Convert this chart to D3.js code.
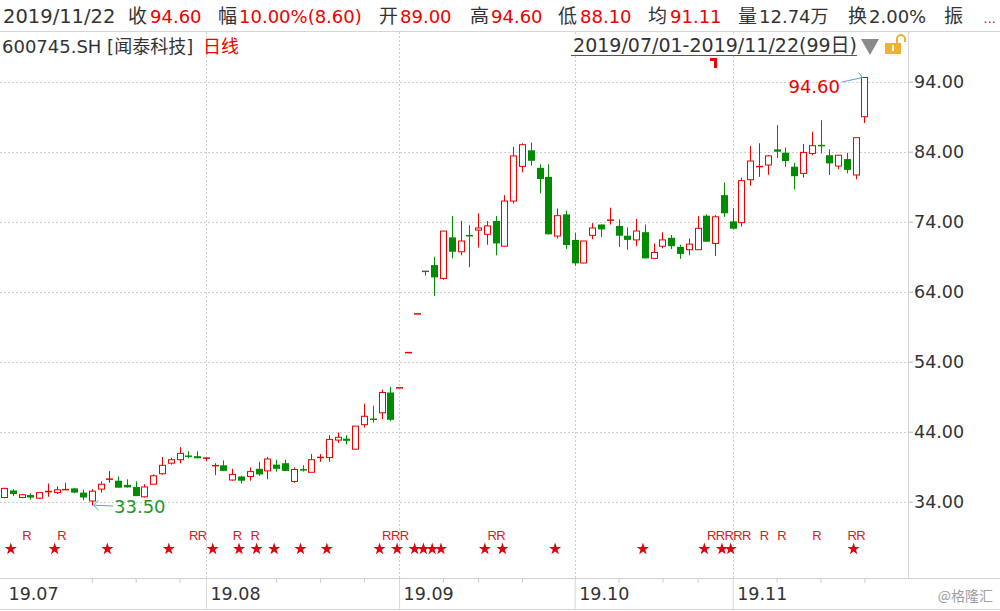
<!DOCTYPE html>
<html><head><meta charset="utf-8">
<script src="https://cdn.jsdelivr.net/npm/d3@7/dist/d3.min.js"></script>
<style>body{margin:0;background:#fff;} svg{display:block;}</style>
</head><body><svg id="c" width="1000" height="611"></svg>
<script>
// ---- data: 600745.SH daily candles 2019/07/01 - 2019/11/22 (99 trading days) ----
const opens = [34.6,35.6,34.6,34.95,34.5,35.4,35.3,35.7,35.9,35.3,
  34.1,35.8,37.2,37.0,36.4,36.1,34.7,36.5,38.0,39.5,
  40.0,40.6,40.5,40.2,39.1,39.2,37.1,37.6,37.6,38.7,
  38.4,39.3,39.5,36.9,38.6,38.2,40.3,40.3,42.8,43.0,
  41.5,45.0,45.85,46.7,49.6,50.27,55.30,60.83,66.91,67.8,
  65.9,71.76,69.7,72.1,72.8,72.2,74.1,70.5,76.95,81.9,
  84.2,81.7,80.4,71.95,75.05,71.4,68.1,72.05,73.6,74.1,
  73.4,72.0,71.4,72.5,68.76,70.5,71.7,70.4,70.0,70.0,
  74.86,70.9,77.8,74.05,73.86,80.0,81.8,82.1,84.33,83.86,
  81.86,80.9,83.76,84.95,83.5,81.95,82.95,80.67,89.0];
const highs = [36.0,35.8,35.1,35.2,35.3,36.6,36.2,36.7,35.95,35.7,
  35.8,36.9,38.4,37.6,37.2,36.9,36.5,37.9,40.4,40.3,
  41.8,41.2,41.2,40.35,39.5,39.9,38.7,37.7,38.9,39.7,
  40.4,40.0,40.0,38.9,39.2,40.8,40.8,43.5,43.9,43.5,
  44.8,48.0,47.7,50.0,50.4,50.27,55.30,60.83,66.91,69.0,
  72.66,74.8,74.14,73.5,75.2,74.1,74.8,77.8,84.7,85.2,
  85.3,82.2,82.2,75.9,75.6,72.4,71.24,73.8,73.6,76.0,
  74.33,73.2,74.4,73.6,70.9,72.5,72.1,70.7,71.6,74.8,
  75.05,74.95,79.6,75.9,80.3,84.8,85.2,83.5,87.8,84.6,
  82.4,85.1,86.86,88.5,84.33,83.5,83.86,86.0,94.6];
const lows = [34.5,34.8,34.5,34.3,34.4,34.7,35.1,35.65,35.2,34.2,
  33.5,35.3,36.7,36.0,36.0,34.8,34.6,36.5,37.85,39.3,
  39.5,40.2,40.2,39.8,37.8,38.4,37.0,36.6,37.0,37.7,
  37.2,38.3,38.4,36.7,38.3,38.2,39.7,39.7,42.4,42.2,
  41.5,44.6,45.3,45.8,45.5,50.27,55.30,60.83,66.3,63.4,
  65.7,68.76,69.2,67.5,70.3,70.7,69.2,70.4,76.6,81.05,
  82.0,78.05,72.2,71.6,70.1,67.7,68.05,71.5,71.8,73.6,
  70.4,70.0,70.5,68.76,68.76,70.2,70.1,68.7,69.2,70.0,
  71.14,69.1,74.7,72.9,73.3,79.14,80.4,80.7,83.1,81.86,
  78.6,80.3,83.5,83.76,80.67,81.5,80.9,80.05,88.1];
const closes = [35.9,35.1,35.0,34.6,35.3,35.5,35.7,35.75,35.3,34.6,
  35.5,36.5,37.25,36.0,36.05,34.8,36.1,37.7,39.2,40.0,
  40.9,40.4,40.2,40.25,39.2,38.4,37.9,37.0,38.3,37.9,
  40.1,38.7,38.4,38.6,38.5,40.0,40.35,42.9,43.2,42.7,
  44.8,46.2,45.7,49.6,45.7,50.27,55.30,60.83,66.91,66.05,
  72.66,69.7,71.24,71.9,73.1,73.4,70.9,76.95,83.4,85.0,
  82.7,80.1,72.2,74.86,70.67,68.05,71.24,73.1,72.9,74.33,
  72.0,71.4,72.67,68.76,69.6,71.4,70.5,69.4,70.8,73.05,
  71.14,74.7,75.2,73.0,79.86,82.67,81.95,83.4,84.0,82.67,
  80.5,83.9,84.86,84.8,82.33,83.5,81.4,86.0,94.6];
const monthLabels = ["19.07","19.08","19.09","19.10","19.11"];
const monthStartIdx = [0,23,45,65,83];
const minorTickIdx = [10,15,20,31,36,41,50,54,59,70,75,79,88,93,98];
const yTicks = [34,44,54,64,74,84,94];
const starIdx = [1,6,12,19,24,27,29,31,34,37,43,45,47,48,49,50,55,57,63,73,80,82,83,97];
const rIdx = [3,7,22,23,27,29,44,45,46,56,57,81,82,83,84,85,87,89,93,97,98];
const maxLabel = {idx:98, value:94.60};
const minLabel = {idx:10, value:33.50};
const headerItems = [
  {t:"2019/11/22",v:false,x:3,fs:19.5},{t:"收",v:false,x:128,fs:19},{t:"94.60",v:true,x:150,fs:18},
  {t:"幅",v:false,x:218,fs:19},{t:"10.00%(8.60)",v:true,x:239,fs:18},
  {t:"开",v:false,x:379,fs:19},{t:"89.00",v:true,x:400,fs:18},
  {t:"高",v:false,x:470,fs:19},{t:"94.60",v:true,x:491,fs:18},
  {t:"低",v:false,x:558,fs:19},{t:"88.10",v:true,x:580,fs:18},
  {t:"均",v:false,x:648,fs:19},{t:"91.11",v:true,x:670,fs:18},
  {t:"量",v:false,x:738,fs:19},{t:"12.74万",v:false,x:759,fs:18},
  {t:"换",v:false,x:848,fs:19},{t:"2.00%",v:false,x:869,fs:18},
  {t:"振",v:false,x:944,fs:19}];

// ---- drawing ----
const RED="#ee0000", GREEN="#008c00", GRID="#cfcfcf", TXT="#333", FONT="'DejaVu Sans','Noto Sans CJK SC',sans-serif";
const svg = d3.select("#c");
const W=1000, plotR=908, plotTop=32, plotBot=578;
const x = d3.scaleLinear().domain([0,98]).range([4,864.4]);
const y = d3.scaleLinear().domain([34,94]).range([501.7,81.7]);
const cx = i => Math.round(x(i))+0.5;

// frame lines
svg.append("line").attr("x1",0).attr("x2",W).attr("y1",31.5).attr("y2",31.5).attr("stroke","#d6d6d6");
svg.append("line").attr("x1",0).attr("x2",W).attr("y1",plotBot+0.5).attr("y2",plotBot+0.5).attr("stroke","#cfcfcf");
svg.append("line").attr("x1",0).attr("x2",W).attr("y1",609.5).attr("y2",609.5).attr("stroke","#d6d6d6");
svg.append("line").attr("x1",plotR+0.5).attr("x2",plotR+0.5).attr("y1",plotTop).attr("y2",plotBot).attr("stroke","#d6d6d6");

// horizontal grid
svg.append("g").selectAll("line").data(yTicks).join("line")
  .attr("x1",0).attr("x2",plotR).attr("y1",d=>Math.round(y(d))+0.5).attr("y2",d=>Math.round(y(d))+0.5)
  .attr("stroke",GRID).attr("stroke-dasharray","2,2");
// month grid (dotted)
svg.append("g").selectAll("line").data(monthStartIdx.slice(1)).join("line")
  .attr("x1",d=>cx(d)).attr("x2",d=>cx(d)).attr("y1",plotTop).attr("y2",plotBot)
  .attr("stroke",GRID).attr("stroke-dasharray","2,2");

// y axis
const yAxis = d3.axisRight(y).tickValues(yTicks).tickFormat(d3.format(".2f")).tickSize(5).tickPadding(1);
const gy = svg.append("g").attr("transform",`translate(${plotR},0)`).call(yAxis);
gy.select(".domain").remove();
gy.selectAll(".tick line").attr("stroke","#bbb");
gy.selectAll(".tick text").attr("fill",TXT).style("font-family",FONT).style("font-size","17.5px");

// x axis
const gx = svg.append("g").attr("transform",`translate(0,${plotBot})`);
gx.call(d3.axisBottom(x).tickValues(minorTickIdx).tickSize(5).tickFormat(""));
gx.call(g=>g.select(".domain").remove());
gx.selectAll(".tick line").attr("stroke","#ccc");
const gm = svg.append("g").attr("transform",`translate(0,${plotBot})`)
  .call(d3.axisBottom(x).tickValues(monthStartIdx).tickSize(32).tickFormat((d,i)=>monthLabels[i]));
gm.select(".domain").remove();
gm.selectAll(".tick line").attr("stroke","#d6d6d6").attr("display",(d,i)=>i===0?"none":null);
gm.selectAll(".tick text").attr("fill",TXT).attr("text-anchor","start").attr("dx",4).attr("y",10)
  .style("font-family",FONT).style("font-size","17.5px");

// candles
const idx = d3.range(opens.length);
const color = i => closes[i]>opens[i]?RED:closes[i]<opens[i]?GREEN:(highs[i]===lows[i]?RED:"#555");
const gc = svg.append("g");
gc.selectAll("line.wick").data(idx).join("line").attr("class","wick")
  .attr("x1",cx).attr("x2",cx).attr("y1",i=>y(highs[i])).attr("y2",i=>y(lows[i]))
  .attr("stroke",color);
gc.selectAll("rect.body").data(idx.filter(i=>Math.abs(y(opens[i])-y(closes[i]))>=2)).join("rect").attr("class","body")
  .attr("x",i=>closes[i]>opens[i]?cx(i)-3:cx(i)-3.5)
  .attr("width",i=>closes[i]>opens[i]?6:7)
  .attr("y",i=>y(Math.max(opens[i],closes[i])))
  .attr("height",i=>Math.abs(y(opens[i])-y(closes[i])))
  .attr("fill",i=>closes[i]>opens[i]?"#fff":GREEN)
  .attr("stroke",i=>closes[i]>opens[i]?RED:"none");
gc.selectAll("line.flat").data(idx.filter(i=>Math.abs(y(opens[i])-y(closes[i]))<2)).join("line").attr("class","flat")
  .attr("x1",i=>cx(i)-3.5).attr("x2",i=>cx(i)+3.5)
  .attr("y1",i=>y((opens[i]+closes[i])/2)).attr("y2",i=>y((opens[i]+closes[i])/2))
  .attr("stroke",color).attr("stroke-width",1.5);

// max / min annotations
const ax = svg.append("g").attr("stroke","#5aa6c6").attr("fill","none");
const mxX = cx(maxLabel.idx)-2, mxY = y(maxLabel.value);
ax.append("path").attr("d",`M842,82L${mxX},${mxY}M${mxX},${mxY}L${mxX-4},${mxY-5}`);
svg.append("text").attr("x",840).attr("y",93).attr("text-anchor","end").attr("fill",RED)
  .style("font-family",FONT).style("font-size","18px").text(maxLabel.value.toFixed(2));
const mnX = cx(minLabel.idx)+1, mnY = y(minLabel.value);
ax.append("path").attr("d",`M113,506L${mnX},${mnY}M${mnX},${mnY}L${mnX+5},${mnY-5}M${mnX},${mnY}L${mnX+5},${mnY+5}`);
svg.append("text").attr("x",114).attr("y",513).attr("fill","#1f961f")
  .style("font-family",FONT).style("font-size","18px").text(minLabel.value.toFixed(2));

// small red flag
svg.append("path").attr("d","M710,58H717V68H714V61H710Z").attr("fill",RED);

// markers
svg.append("g").selectAll("path").data(starIdx).join("path")
  .attr("d",d3.symbol(d3.symbolStar,46))
  .attr("transform",d=>`translate(${x(d)-2},${549})`).attr("fill","#e00010");
svg.append("g").selectAll("text").data(rIdx).join("text")
  .attr("x",d=>x(d)-3.5).attr("y",540).attr("text-anchor","middle").attr("fill","#e8102a")
  .style("font-family","'Liberation Sans',sans-serif").style("font-size","13px").text("R");

// header row 1
svg.append("g").selectAll("text").data(headerItems).join("text")
  .attr("x",d=>d.x).attr("y",23).attr("fill",d=>d.v?RED:TXT)
  .style("font-family",FONT).style("font-size",d=>d.fs+"px").text(d=>d.t);
svg.append("text").attr("x",996).attr("y",23).attr("text-anchor","end").attr("fill",RED)
  .style("font-family",FONT).style("font-size","13px").text("...");

// header row 2
svg.append("text").attr("x",2).attr("y",53).attr("fill",TXT).style("font-family",FONT).style("font-size","18px").text("600745.SH [闻泰科技]");
svg.append("text").attr("x",203).attr("y",53).attr("fill",RED).style("font-family",FONT).style("font-size","18px").text("日线");
svg.append("rect").attr("x",568).attr("y",34).attr("width",292).attr("height",22).attr("fill","#fff");
svg.append("text").attr("x",857).attr("y",52).attr("text-anchor","end").attr("fill",TXT).style("font-family",FONT).style("font-size","19px").text("2019/07/01-2019/11/22(99日)");
svg.append("line").attr("x1",571).attr("x2",857).attr("y1",55.5).attr("y2",55.5).attr("stroke","#555");
svg.append("path").attr("d","M861,39H879L870,55Z").attr("fill","#8a8a8a");
svg.append("rect").attr("x",885).attr("y",43).attr("width",16).attr("height",11).attr("fill","#f0b030");
svg.append("path").attr("d","M897,43V39A4,4 0 0 1 905,39V42").attr("fill","none").attr("stroke","#f0b030").attr("stroke-width",2);
svg.append("rect").attr("x",892).attr("y",45).attr("width",2).attr("height",6).attr("fill","#fff");

// watermark
svg.append("text").attr("x",993).attr("y",601).attr("text-anchor","end").attr("fill","#a0a0a0")
  .style("font-family","'Noto Sans CJK SC',sans-serif").style("font-size","14px").text("@格隆汇");
</script></body></html>
